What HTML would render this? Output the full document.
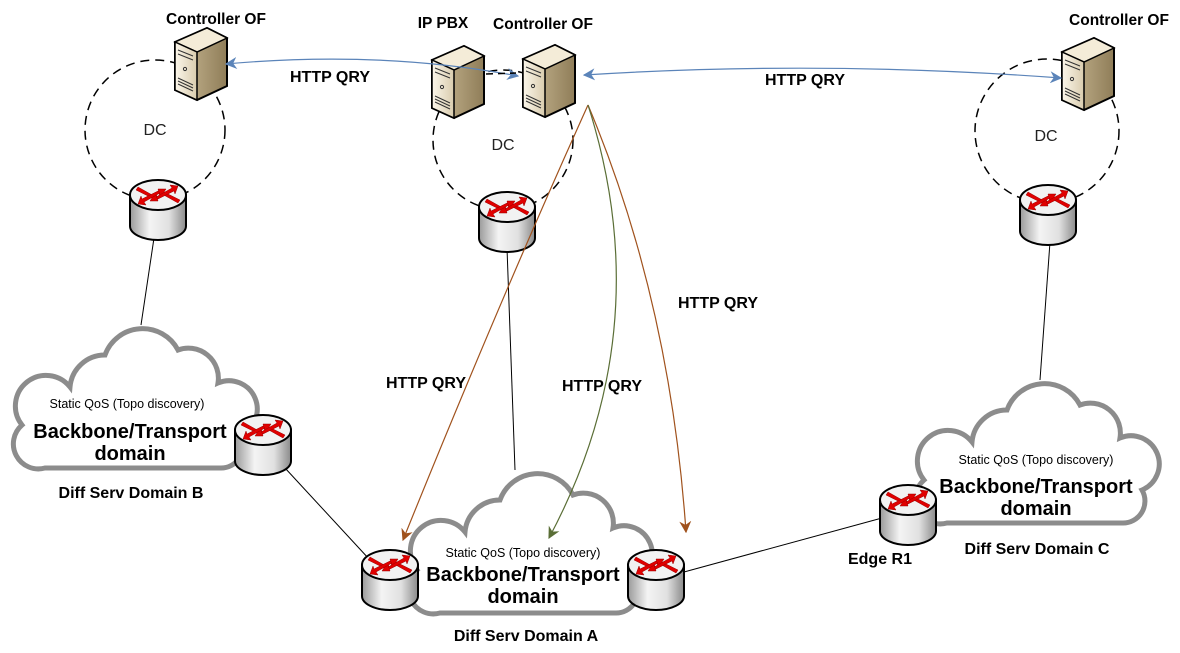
<!DOCTYPE html>
<html><head><meta charset="utf-8"><style>
html,body{margin:0;padding:0;background:#fff;}
svg{display:block;font-family:"Liberation Sans",Arial,sans-serif;}
.b{font-weight:bold;fill:#000;}
</style></head><body>
<svg width="1180" height="653" viewBox="0 0 1180 653" xmlns="http://www.w3.org/2000/svg">
<defs>
<linearGradient id="cyl" x1="0" x2="1" y1="0" y2="0">
<stop offset="0" stop-color="#9a9a9a"/><stop offset="0.35" stop-color="#f4f4f4"/><stop offset="0.7" stop-color="#e0e0e0"/><stop offset="1" stop-color="#8a8a8a"/></linearGradient>
<linearGradient id="srvF" x1="0" x2="1"><stop offset="0" stop-color="#fbf6ea"/><stop offset="1" stop-color="#d9ccae"/></linearGradient>
<linearGradient id="srvS" x1="0" x2="1"><stop offset="0" stop-color="#cdbd99"/><stop offset="1" stop-color="#8f7d58"/></linearGradient>
<g id="router">
<path d="M-28,0 L-28,31 A28,14 0 0 0 28,31 L28,0 Z" fill="url(#cyl)" stroke="#000" stroke-width="2"/>
<ellipse cx="0" cy="0" rx="28" ry="15" fill="#f2f2f2" stroke="#000" stroke-width="2"/>
<g fill="#e00000" stroke="#900" stroke-width="0.5">
<path d="M-20,-8 L-4,1 L-2,-2 L0,6 L-8,6 L-6,3 L-22,-5 Z"/>
<path d="M20,8 L4,-1 L2,2 L0,-6 L8,-6 L6,-3 L22,5 Z"/>
<path d="M20,-9 L12,-10 L14,-7 L-2,2 L0,4 L16,-4 L17,-1 Z"/>
<path d="M-20,9 L-12,10 L-14,7 L2,-2 L0,-4 L-16,4 L-17,1 Z"/>
</g>
</g>
<g id="server">
<path d="M0,14 L32,0 L52,10 L52,58 L22,72 L0,62 Z" fill="url(#srvS)" stroke="#000" stroke-width="2"/>
<path d="M0,14 L32,0 L52,10 L22,24 Z" fill="#f4ecd8" stroke="#000" stroke-width="1.5"/>
<path d="M0,14 L22,24 L22,72 L0,62 Z" fill="url(#srvF)" stroke="#000" stroke-width="1.5"/>
<path d="M3,22 L18,28 M3,26 L18,32 M3,50 L18,57 M3,53 L18,60 M3,56 L18,63" stroke="#333" stroke-width="1"/>
<circle cx="10" cy="41" r="1.6" fill="none" stroke="#333"/>
</g>
<path id="cloud" d="M35,143 A25,25 0 0 1 12,100 A30,30 0 0 1 60,62 A35,35 0 0 1 95,30 A40,40 0 0 1 168,25 A30,30 0 0 1 208,58 A28,28 0 0 1 230,110 A22,22 0 0 1 210,143 Z" fill="#fff" stroke="#8c8c8c" stroke-width="5"/>
<marker id="ab" viewBox="0 0 10 10" refX="9" refY="5" markerWidth="12" markerHeight="12" orient="auto-start-reverse" markerUnits="userSpaceOnUse"><path d="M0,0 L10,5 L0,10 L3,5 Z" fill="#5b84b9"/></marker>
<marker id="ao" viewBox="0 0 10 10" refX="9" refY="5" markerWidth="12" markerHeight="12" orient="auto" markerUnits="userSpaceOnUse"><path d="M0,0 L10,5 L0,10 L3,5 Z" fill="#a0521d"/></marker>
<marker id="ag" viewBox="0 0 10 10" refX="9" refY="5" markerWidth="12" markerHeight="12" orient="auto" markerUnits="userSpaceOnUse"><path d="M0,0 L10,5 L0,10 L3,5 Z" fill="#5a6e36"/></marker>
</defs>

<g fill="none" stroke="#000" stroke-width="1.5" stroke-dasharray="9,6">
<circle cx="155" cy="130" r="70"/>
<circle cx="503" cy="140" r="70"/>
<circle cx="1047" cy="131" r="72"/>
</g>

<g stroke="#000" stroke-width="1" fill="none">
<line x1="154" y1="238" x2="141" y2="325"/>
<line x1="507" y1="248" x2="515" y2="470"/>
<line x1="1050" y1="242" x2="1040" y2="380"/>
<line x1="285" y1="468" x2="370" y2="560"/>
<line x1="684" y1="572" x2="882" y2="518"/>
</g>

<use href="#cloud" transform="translate(10,325)"/>
<use href="#cloud" transform="translate(405,470)"/>
<use href="#cloud" transform="translate(912,380)"/>

<g text-anchor="middle" class="b">
<text x="127" y="408" font-size="12.5" font-weight="normal">Static QoS (Topo discovery)</text>
<text x="130" y="438" font-size="20">Backbone/Transport</text>
<text x="130" y="460" font-size="20">domain</text>
<text x="523" y="557" font-size="12.5" font-weight="normal">Static QoS (Topo discovery)</text>
<text x="523" y="581" font-size="20">Backbone/Transport</text>
<text x="523" y="603" font-size="20">domain</text>
<text x="1036" y="464" font-size="12.5" font-weight="normal">Static QoS (Topo discovery)</text>
<text x="1036" y="493" font-size="20">Backbone/Transport</text>
<text x="1036" y="515" font-size="20">domain</text>
<text x="131" y="498" font-size="16">Diff Serv Domain B</text>
<text x="526" y="641" font-size="16">Diff Serv Domain A</text>
<text x="1037" y="554" font-size="16">Diff Serv Domain C</text>
<text x="880" y="564" font-size="16">Edge R1</text>
<text x="216" y="24" font-size="15.5">Controller OF</text>
<text x="443" y="28" font-size="15.5">IP PBX</text>
<text x="543" y="29" font-size="15.5">Controller OF</text>
<text x="1119" y="25" font-size="15.5">Controller OF</text>
<text x="330" y="82" font-size="16">HTTP QRY</text>
<text x="805" y="85" font-size="16">HTTP QRY</text>
<text x="718" y="308" font-size="16">HTTP QRY</text>
<text x="426" y="388" font-size="16">HTTP QRY</text>
<text x="602" y="391" font-size="16">HTTP QRY</text>
</g>
<g font-size="16" fill="#222" text-anchor="middle">
<text x="155" y="135">DC</text>
<text x="503" y="150">DC</text>
<text x="1046" y="141">DC</text>
</g>

<use href="#router" transform="translate(158,195)"/>
<use href="#router" transform="translate(263,430)"/>
<use href="#router" transform="translate(507,207)"/>
<use href="#router" transform="translate(390,565)"/>
<use href="#router" transform="translate(656,565)"/>
<use href="#router" transform="translate(1048,200)"/>
<use href="#router" transform="translate(908,500)"/>

<use href="#server" transform="translate(175,28)"/>
<use href="#server" transform="translate(432,46)"/>
<use href="#server" transform="translate(523,45)"/>
<use href="#server" transform="translate(1062,38)"/>

<path d="M226,64 Q380,50 518,76" fill="none" stroke="#5b84b9" stroke-width="1.2" marker-start="url(#ab)" marker-end="url(#ab)"/>
<path d="M584,75 Q820,60 1061,78" fill="none" stroke="#5b84b9" stroke-width="1.2" marker-start="url(#ab)" marker-end="url(#ab)"/>
<line x1="486" y1="74" x2="516" y2="73" stroke="#000" stroke-width="1.5" stroke-dasharray="7,5"/>
<path d="M588,105 Q500,300 403,540" fill="none" stroke="#a0521d" stroke-width="1.2" marker-end="url(#ao)"/>
<path d="M588,105 Q670,300 686,532" fill="none" stroke="#a0521d" stroke-width="1.2" marker-end="url(#ao)"/>
<path d="M588,105 Q660,330 549,538" fill="none" stroke="#5a6e36" stroke-width="1.2" marker-end="url(#ag)"/>
</svg>
</body></html>
